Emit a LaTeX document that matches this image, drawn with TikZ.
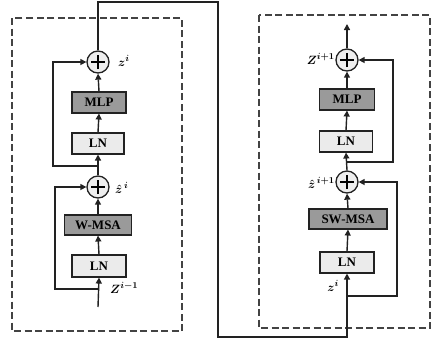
\documentclass[tikz,border=0pt]{standalone}
\usepackage{fontspec}
\newfontfamily\boxfont{Liberation Serif}
\usetikzlibrary{arrows.meta}
\definecolor{darkbox}{HTML}{9A9A9A}
\definecolor{lightbox}{HTML}{EBEBEB}
\definecolor{plusfill}{HTML}{EEEEEE}
\definecolor{linecol}{HTML}{222222}
\tikzset{
  conn/.style={draw=linecol, line width=1.4pt},
  arr/.style={conn, -{Triangle[length=6pt,width=6pt]}},
  blk/.style={draw=linecol, line width=1.1pt, minimum height=21pt, inner sep=0pt, font=\boxfont\bfseries\fontsize{13}{15}\selectfont},
  dblk/.style={blk, fill=darkbox},
  lblk/.style={blk, fill=lightbox},
  addnode/.style={circle, draw=linecol, line width=1.3pt, fill=plusfill, minimum size=22pt, inner sep=0pt,
    path picture={\draw[line width=1.8pt, black] ([xshift=-7pt]path picture bounding box.center) -- ([xshift=7pt]path picture bounding box.center);
                  \draw[line width=1.8pt, black] ([yshift=-7pt]path picture bounding box.center) -- ([yshift=7pt]path picture bounding box.center);}},
  lbl/.style={font=\fontsize{13}{15}\selectfont\boldmath, inner sep=0pt},
  frame/.style={draw=linecol!85, line width=1.2pt, dash pattern=on 7pt off 3.5pt}
}
\begin{document}
\begin{tikzpicture}[x=1pt,y=-1pt]
\useasboundingbox (0,0) rectangle (442,341);
% frames
\draw[frame] (12,18) rectangle (182,331);
\draw[frame] (259,15) rectangle (430,328);
% left block
\node[addnode] (lpt) at (98,62) {};
\node[dblk, minimum width=54pt] (lmlp) at (99,102.5) {MLP};
\node[lblk, minimum width=52pt] (lln1) at (98,143.5) {LN};
\node[addnode] (lpb) at (98,187) {};
\node[dblk, minimum width=67pt, minimum height=20pt] (lwmsa) at (98,225) {W-MSA};
\node[lblk, minimum width=54pt, minimum height=22pt] (lln2) at (99,266) {LN};
\coordinate (lin) at (98,307);
\coordinate (lb2) at (98,289);
\coordinate (lb1) at (98,166);
\node[lbl, anchor=west] (lz1) at (118,61) {$z^{i}$};
\node[lbl, anchor=west] (lz2) at (115,188) {$\hat{z}^{\,i}$};
\node[lbl, anchor=west] (lz3) at (110,288) {$Z^{i-1}$};
\draw[arr] (lin) -- (lln2.south);
\draw[arr] (lln2.north) -- (lwmsa.south);
\draw[arr] (lwmsa.north) -- (lpb.south);
\draw[arr] (lpb.north) -- (lln1.south);
\draw[arr] (lln1.north) -- (lmlp.south);
\draw[arr] (lmlp.north) -- (lpt.south);
\draw[arr] (lb2) -- (55,289) -- (55,187) -- (lpb.west);
\draw[arr] (lb1) -- (53,166) -- (53,62) -- (lpt.west);
% right block
\node[addnode] (rpt) at (347,60) {};
\node[dblk, minimum width=55pt] (rmlp) at (347,99.5) {MLP};
\node[lblk, minimum width=53pt] (rln1) at (346,141.5) {LN};
\node[addnode] (rpb) at (347,182) {};
\node[dblk, minimum width=78pt, minimum height=20pt] (rswmsa) at (348,219) {SW-MSA};
\node[lblk, minimum width=54pt] (rln2) at (347,262.5) {LN};
\coordinate (rout) at (347,24);
\coordinate (rb1) at (347,162);
\coordinate (rb2) at (347,296);
\node[lbl, anchor=east] (rz1) at (335,59) {$Z^{i+1}$};
\node[lbl, anchor=east] (rz2) at (335,183) {$\hat{z}^{\,i+1}$};
\node[lbl, anchor=east] (rz3) at (339,286) {$z^{i}$};
\draw[arr] (rln2.north) -- (rswmsa.south);
\draw[arr] (rswmsa.north) -- (rpb.south);
\draw[arr] (rpb.north) -- (rln1.south);
\draw[arr] (rln1.north) -- (rmlp.south);
\draw[arr] (rmlp.north) -- (rpt.south);
\draw[arr] (rpt.north) -- (rout);
\draw[arr] (rb1) -- (393,162) -- (393,60) -- (rpt.east);
\draw[arr] (rb2) -- (397,296) -- (397,182) -- (rpb.east);
% link between blocks
\draw[arr] (lpt.north) -- (98,2) -- (218,2) -- (218,337) -- (347,337) -- (rln2.south);
\end{tikzpicture}
\end{document}
